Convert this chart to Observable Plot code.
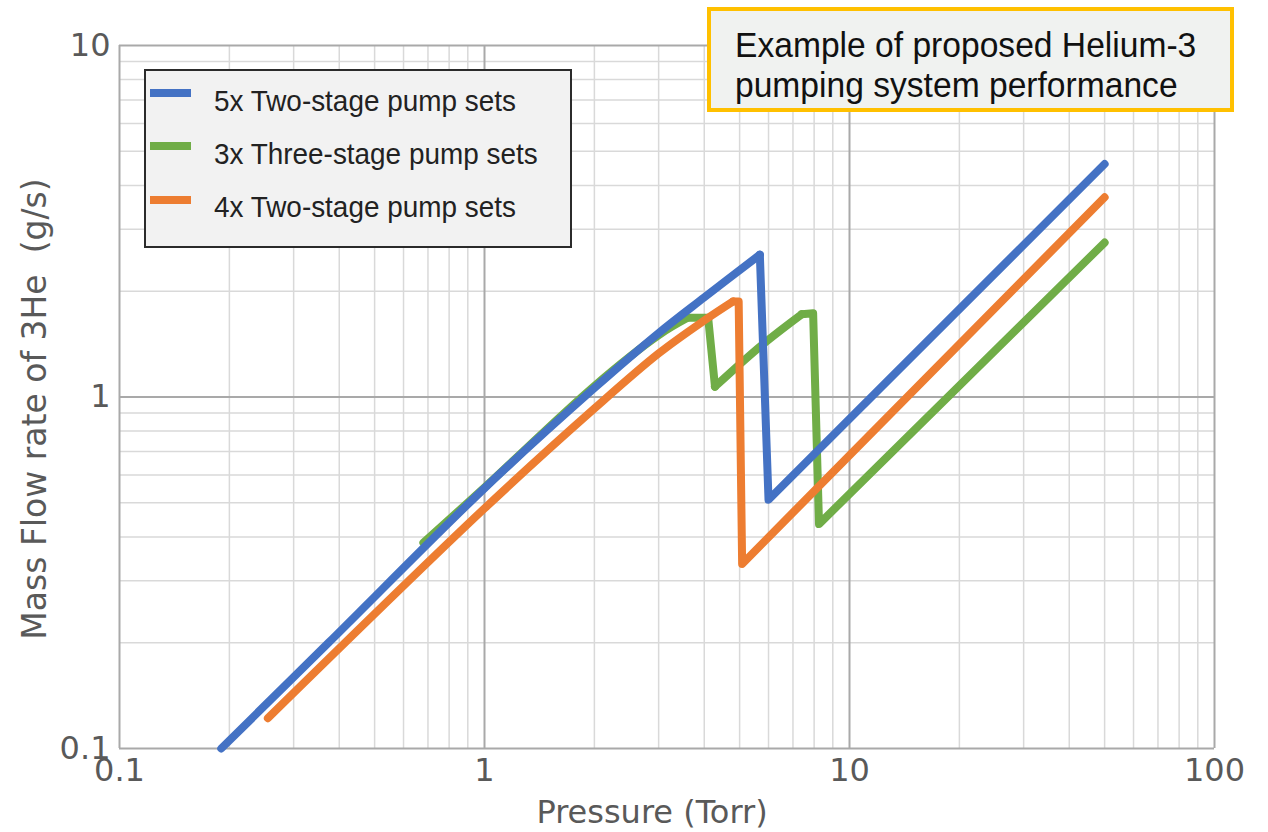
<!DOCTYPE html>
<html>
<head>
<meta charset="utf-8">
<script src="https://cdn.jsdelivr.net/npm/d3@7"></script>
<script src="https://cdn.jsdelivr.net/npm/@observablehq/plot@0.6"></script>
<style>
  html, body { margin: 0; padding: 0; background: #fff; }
  #wrap { position: relative; width: 1268px; height: 832px; overflow: hidden; }
  #legend { position: absolute; left: 144px; top: 69px; width: 428px; height: 179px; box-sizing: border-box;
            background: #f2f2f2; border: 2px solid #2b2b2b; }
  .sw { position: absolute; left: 150px; width: 41px; height: 8px; }
  .lt { position: absolute; left: 214px; height: 40px; display: flex; align-items: center;
        font-family: "Liberation Sans", Arial, sans-serif; font-size: 30px; color: #222; white-space: nowrap;
        transform: scaleX(0.93); transform-origin: left center; }
  #note { position: absolute; left: 707px; top: 7px; width: 527px; height: 105px; box-sizing: border-box;
          background: #f0f2f0; border: 4px solid #ffc000; }
  .nt { position: absolute; left: 735px; height: 40px; display: flex; align-items: center;
        font-family: "Liberation Sans", Arial, sans-serif; font-size: 35px; color: #111; white-space: nowrap;
        transform: scaleX(0.96); transform-origin: left center; }
</style>
</head>
<body>
<div id="wrap"></div>
<script>
// ---- data (Pressure in Torr, mass flow in g/s) ----
const seriesNames = ["5x Two-stage pump sets", "3x Three-stage pump sets", "4x Two-stage pump sets"];
const seriesColors = ["#4472c4", "#70ad47", "#ed7d31"];

const blueX = [0.19, 0.374, 1, 2, 3, 4, 5.68, 6.0, 50];
const blueY = [0.1, 0.2, 0.55, 1.06, 1.52, 1.92, 2.54, 0.51, 4.6];

const greenX = [0.68, 1, 2, 3, 3.6, 4.1, 4.28, 5.73, 7.4, 7.95, 8.25, 50];
const greenY = [0.385, 0.553, 1.075, 1.50, 1.68, 1.68, 1.07, 1.40, 1.72, 1.73, 0.435, 2.75];

const orangeX = [0.255, 1, 2, 3, 4, 4.8, 4.97, 5.08, 50];
const orangeY = [0.122, 0.482, 0.927, 1.33, 1.65, 1.87, 1.87, 0.335, 3.7];

const xTicks = [0.1, 1, 10, 100];
const yTicks = [0.1, 1, 10];
const xMinor = [0.2,0.3,0.4,0.5,0.6,0.7,0.8,0.9, 2,3,4,5,6,7,8,9, 20,30,40,50,60,70,80,90];
const yMinor = [0.2,0.3,0.4,0.5,0.6,0.7,0.8,0.9, 2,3,4,5,6,7,8,9];

const xLabel = "Pressure (Torr)";
const yLabel = "Mass Flow rate of 3He\u00a0 (g/s)";
const noteLines = ["Example of proposed Helium-3", "pumping system performance"];

// ---- build table: each series split into smooth (curved) runs and straight runs ----
const seriesData = [
  {name: seriesNames[0], color: seriesColors[0], xs: blueX, ys: blueY, smooth: [[0, 6]]},
  {name: seriesNames[1], color: seriesColors[1], xs: greenX, ys: greenY, smooth: [[0, 4], [6, 8]]},
  {name: seriesNames[2], color: seriesColors[2], xs: orangeX, ys: orangeY, smooth: [[0, 5]]}
];
const rows = [];
let runId = 0;
for (const s of seriesData) {
  const n = s.xs.length;
  const runs = [];
  let cur = 0;
  for (const [a, b] of s.smooth) {
    if (a > cur) runs.push({from: cur, to: a, smooth: false});
    runs.push({from: a, to: b, smooth: true});
    cur = b;
  }
  if (cur < n - 1) runs.push({from: cur, to: n - 1, smooth: false});
  for (const r of runs) {
    runId++;
    for (let i = r.from; i <= r.to; i++) rows.push({series: s.name, run: runId, smooth: r.smooth, x: s.xs[i], y: s.ys[i]});
  }
}

const drawOrder = [seriesNames[1], seriesNames[2], seriesNames[0]];
const lineMarks = drawOrder.flatMap(name => {
  const s = seriesData.find(d => d.name === name);
  const common = {x: "x", y: "y", z: "run", stroke: s.color, strokeWidth: 8, strokeLinejoin: "round", strokeLinecap: "round"};
  return [
    Plot.line(rows.filter(r => r.series === name && !r.smooth), {...common, curve: "linear"}),
    Plot.line(rows.filter(r => r.series === name && r.smooth), {...common, curve: "catmull-rom"})
  ];
});

const fmt = d => String(d);

const chart = Plot.plot({
  width: 1268,
  height: 832,
  marginLeft: 119,
  marginRight: 54,
  marginTop: 45,
  marginBottom: 84,
  x: {type: "log", domain: [0.1, 100]},
  y: {type: "log", domain: [0.1, 10]},
  style: {fontFamily: "'DejaVu Sans', sans-serif", fontSize: "32px", color: "#595959", background: "white", overflow: "visible"},
  marks: [
    Plot.ruleX(xMinor, {stroke: "#d9d9d9", strokeWidth: 1.5}),
    Plot.ruleY(yMinor, {stroke: "#d9d9d9", strokeWidth: 1.5}),
    Plot.ruleX(xTicks, {stroke: "#a9a9a9", strokeWidth: 2}),
    Plot.ruleY(yTicks, {stroke: "#a9a9a9", strokeWidth: 2}),
    Plot.axisX({ticks: xTicks, tickFormat: fmt, tickSize: 0, tickPadding: 10, label: null, fontSize: 32}),
    Plot.axisY({ticks: yTicks, tickFormat: fmt, tickSize: 0, tickPadding: 9, label: null, fontSize: 32}),
    Plot.text([xLabel], {text: d => d, frameAnchor: "bottom", lineAnchor: "middle", textAnchor: "middle",
                         dy: 64, dx: -15, fontSize: 32, fill: "#595959"}),
    Plot.text([yLabel], {text: d => d, frameAnchor: "left", lineAnchor: "middle", textAnchor: "middle",
                         rotate: -90, dx: -84, dy: 12, fontSize: 33, fill: "#595959"}),
    ...lineMarks
  ]
});

const wrap = document.getElementById("wrap");
wrap.appendChild(chart);

// ---- legend ----
const legend = document.createElement("div");
legend.id = "legend";
wrap.appendChild(legend);
const swatchTops = [93, 146, 200];
const textCenters = [101, 154, 207];
seriesNames.forEach((name, i) => {
  const sw = document.createElement("div");
  sw.className = "sw";
  sw.style.top = (swatchTops[i] - 4) + "px";
  sw.style.background = seriesColors[i];
  wrap.appendChild(sw);
  const t = document.createElement("div");
  t.className = "lt";
  t.style.top = (textCenters[i] - 20) + "px";
  t.textContent = name;
  wrap.appendChild(t);
});

// ---- annotation box ----
const note = document.createElement("div");
note.id = "note";
wrap.appendChild(note);
const noteCenters = [45, 85];
noteLines.forEach((line, i) => {
  const t = document.createElement("div");
  t.className = "nt";
  t.style.top = (noteCenters[i] - 20) + "px";
  t.textContent = line;
  wrap.appendChild(t);
});
</script>
</body>
</html>
